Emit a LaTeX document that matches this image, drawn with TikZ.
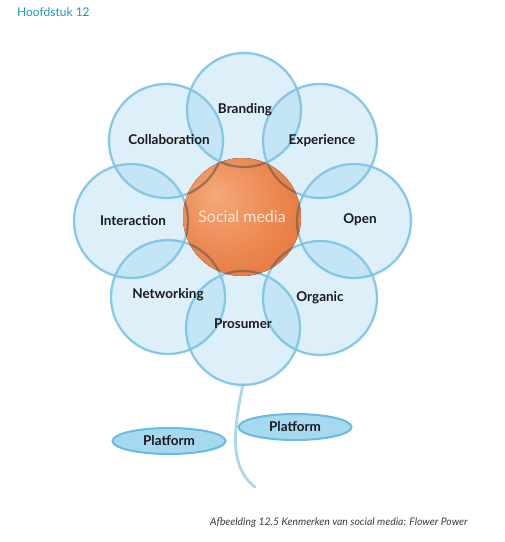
\documentclass[tikz,border=0pt]{standalone}
\usepackage{fontspec}
\setmainfont{Lato}
\usetikzlibrary{shapes.geometric}
\definecolor{petalfill}{RGB}{120,195,235}
\definecolor{petalline}{RGB}{125,195,228}
\definecolor{arcdark}{RGB}{125,100,80}
\definecolor{headteal}{RGB}{35,150,185}
\definecolor{captiongray}{RGB}{60,60,60}
\definecolor{platfill}{RGB}{165,217,240}
\definecolor{platline}{RGB}{105,188,222}
\definecolor{stemblue}{RGB}{170,215,235}
\definecolor{labeltext}{RGB}{25,25,30}
\definecolor{socialtext}{RGB}{252,232,218}
\pgfdeclareradialshading{orangeball}{\pgfpoint{-12bp}{10bp}}{%
  color(0bp)=(rgb,255:red,244;green,170;blue,122);
  color(22bp)=(rgb,255:red,236;green,135;blue,80);
  color(50bp)=(rgb,255:red,222;green,100;blue,42)}
\tikzset{
  petal/.style={circle, minimum size=114pt, inner sep=0pt, fill=petalfill, fill opacity=0.25,
    draw=petalline, draw opacity=0.9, line width=2.3pt},
  petalarc/.style={circle, minimum size=114pt, inner sep=0pt, draw=arcdark, draw opacity=0.75, line width=2.2pt},
  petallabel/.style={font=\fontsize{13.5}{15}\selectfont\bfseries, text=labeltext},
  platform/.style={ellipse, minimum width=113pt, minimum height=26pt, inner sep=0pt,
    fill=platfill, draw=platline, line width=2pt, font=\fontsize{13.5}{15}\selectfont\bfseries, text=labeltext},
  stemline/.style={draw=stemblue, line width=2.8pt, line cap=round}
}
\begin{document}
\begin{tikzpicture}[x=1pt,y=-1pt]
\useasboundingbox (0,0) rectangle (505,542);
% heading
\node[anchor=west, text=headteal, font=\fontsize{12}{14}\selectfont, inner sep=0pt] (head) at (17,12) {Hoofdstuk 12};
% stem
\coordinate (stemtop) at (243,384);
\coordinate (stemend) at (255,487);
\draw[stemline] (stemtop) .. controls (236,420) and (226,465) .. (stemend);
% petals
\foreach \n/\x/\y in {branding/244/110, experience/320/141, open/354/221, organic/320/298,
  prosumer/243/328, networking/168/297, interaction/131/221, collaboration/166/141}{
  \node[petal] (\n) at (\x,\y) {};
}
% centre
\coordinate (c) at (242,217);
\fill[shading=orangeball] (c) circle (59pt);
\begin{scope}
  \clip (c) circle (59pt);
  \foreach \x/\y in {244/110, 320/141, 354/221, 320/298, 243/328, 168/297, 131/221, 166/141}{
    \node[petalarc] at (\x,\y) {};
  }
\end{scope}
\node[text=socialtext, font=\fontsize{16}{18}\selectfont] (social) at (c) {Social media};
% labels
\node[petallabel] (lbranding) at (245,110) {Branding};
\node[petallabel] (lexperience) at (322,141) {Experience};
\node[petallabel] (lopen) at (360,220) {Open};
\node[petallabel] (lorganic) at (320,298) {Organic};
\node[petallabel] (lprosumer) at (243,324) {Prosumer};
\node[petallabel] (lnetworking) at (168,295) {Networking};
\node[petallabel] (linteraction) at (133,221) {Interaction};
\node[petallabel] (lcollaboration) at (169,140) {Collaboration};
% platforms
\node[platform] (plat1) at (169,441) {Platform};
\node[platform] (plat2) at (295,427) {Platform};
% caption
\node[anchor=west, inner sep=0pt, text=captiongray, font=\fontsize{10.4}{12}\selectfont\itshape] (cap) at (210,523)
  {Afbeelding 12.5 Kenmerken van social media: Flower Power};
\end{tikzpicture}
\end{document}
